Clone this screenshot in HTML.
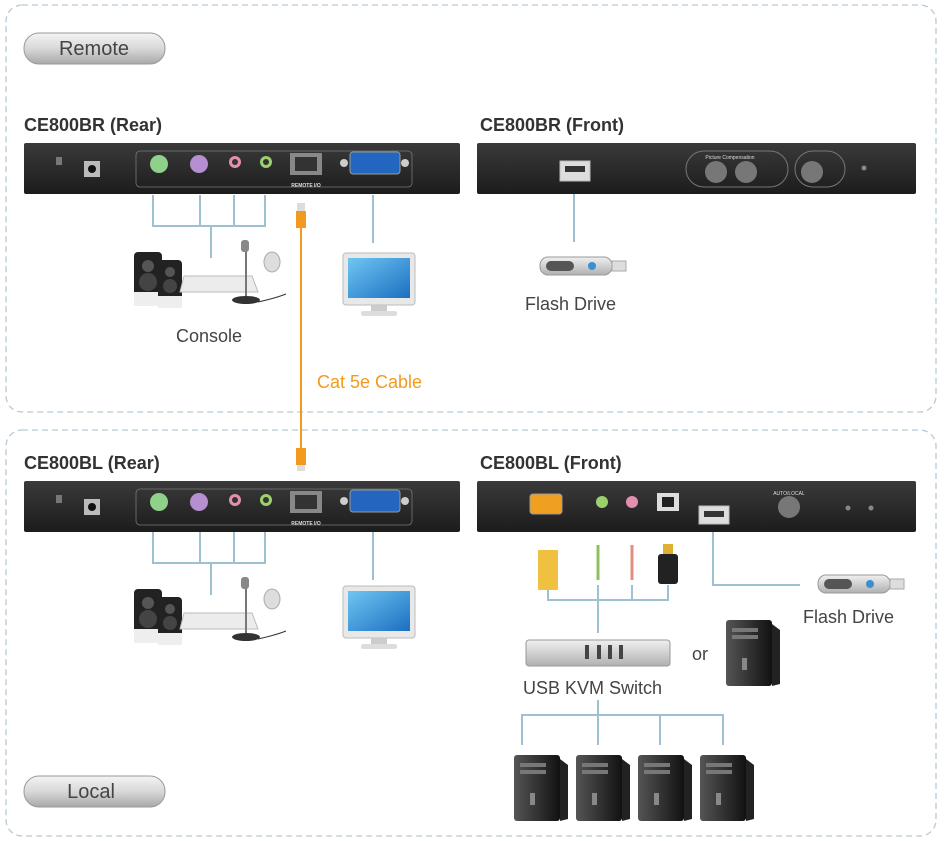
<!DOCTYPE html>
<html><head><meta charset="utf-8"><style>
html,body{margin:0;padding:0;background:#fff;}
svg{display:block;font-family:"Liberation Sans",sans-serif;}
</style></head><body>
<svg width="945" height="841" viewBox="0 0 945 841" xmlns="http://www.w3.org/2000/svg">
<defs>
<linearGradient id="pill" x1="0" y1="0" x2="0" y2="1"><stop offset="0" stop-color="#f4f4f4"/><stop offset="0.5" stop-color="#d8d8d8"/><stop offset="1" stop-color="#a8a8a8"/></linearGradient>
<linearGradient id="panel" x1="0" y1="0" x2="0" y2="1"><stop offset="0" stop-color="#3a3a3a"/><stop offset="1" stop-color="#1c1c1c"/></linearGradient>
<linearGradient id="scr" x1="0" y1="0" x2="1" y2="1"><stop offset="0" stop-color="#6fc6f2"/><stop offset="1" stop-color="#1b6fc0"/></linearGradient>
<linearGradient id="pc" x1="0" y1="0" x2="1" y2="0"><stop offset="0" stop-color="#555"/><stop offset="1" stop-color="#111"/></linearGradient>
<linearGradient id="silver" x1="0" y1="0" x2="0" y2="1"><stop offset="0" stop-color="#f0f0f0"/><stop offset="1" stop-color="#b0b0b0"/></linearGradient>
<g id="pcg"><rect x="0" y="0" width="46" height="66" rx="3" fill="url(#pc)"/><rect x="6" y="8" width="26" height="4" fill="#777"/><rect x="6" y="15" width="26" height="4" fill="#777"/><rect x="16" y="38" width="5" height="12" fill="#888"/><polygon points="46,4 54,10 54,64 46,66" fill="#222"/></g>
<g id="monitor"><rect x="0" y="0" width="72" height="52" rx="3" fill="#e8e8e8" stroke="#bbb"/><rect x="5" y="5" width="62" height="40" fill="url(#scr)"/><rect x="28" y="52" width="16" height="6" fill="#ccc"/><rect x="18" y="58" width="36" height="5" rx="2" fill="#ddd"/></g>
<g id="flash"><rect x="0" y="0" width="72" height="18" rx="8" fill="url(#silver)" stroke="#999"/><rect x="6" y="4" width="28" height="10" rx="5" fill="#555"/><circle cx="52" cy="9" r="4" fill="#3a8fd0"/><rect x="72" y="4" width="14" height="10" fill="#ddd" stroke="#aaa"/></g>
<g id="console">
<rect x="0" y="12" width="28" height="48" rx="4" fill="#222"/><circle cx="14" cy="26" r="6" fill="#555"/><circle cx="14" cy="42" r="9" fill="#444"/><rect x="0" y="52" width="28" height="14" fill="#eee"/>
<rect x="24" y="20" width="24" height="42" rx="4" fill="#222"/><circle cx="36" cy="32" r="5" fill="#555"/><circle cx="36" cy="46" r="7" fill="#444"/><rect x="24" y="56" width="24" height="12" fill="#eee"/>
<polygon points="50,36 118,36 124,52 46,52" fill="#ececec" stroke="#bbb"/>
<line x1="112" y1="8" x2="112" y2="58" stroke="#777" stroke-width="2"/><rect x="107" y="0" width="8" height="12" rx="3" fill="#888"/><ellipse cx="112" cy="60" rx="14" ry="4" fill="#333"/>
<ellipse cx="138" cy="22" rx="8" ry="10" fill="#ddd" stroke="#aaa"/><path d="M124,62 q18,-4 28,-8" stroke="#333" fill="none"/>
</g>
<g id="rear">
<rect x="0" y="0" width="436" height="51" rx="2" fill="url(#panel)"/>
<rect x="32" y="14" width="6" height="8" fill="#777"/><rect x="60" y="18" width="16" height="16" fill="#bbb"/><circle cx="68" cy="26" r="4" fill="#111"/>
<rect x="112" y="8" width="276" height="36" rx="4" fill="none" stroke="#777" stroke-width="0.8"/>
<circle cx="135" cy="21" r="9" fill="#8fd08a"/><circle cx="175" cy="21" r="9" fill="#b58fd0"/>
<circle cx="211" cy="19" r="6" fill="#e58fb0"/><circle cx="211" cy="19" r="3" fill="#333"/>
<circle cx="242" cy="19" r="6" fill="#9cd06a"/><circle cx="242" cy="19" r="3" fill="#333"/>
<rect x="266" y="10" width="32" height="22" fill="#888"/><rect x="271" y="14" width="22" height="14" fill="#333"/>
<text x="282" y="44" font-size="5" fill="#ddd" text-anchor="middle" font-weight="bold">REMOTE I/O</text>
<circle cx="320" cy="20" r="4" fill="#ccc"/><circle cx="381" cy="20" r="4" fill="#ccc"/>
<rect x="326" y="9" width="50" height="22" rx="3" fill="#2266c0" stroke="#999"/>
</g>
</defs>

<rect x="6" y="5" width="930" height="407" rx="16" fill="none" stroke="#b7c9d6" stroke-width="1.3" stroke-dasharray="6,4"/>
<rect x="6" y="430" width="930" height="406" rx="16" fill="none" stroke="#b7c9d6" stroke-width="1.3" stroke-dasharray="6,4"/>

<rect x="24" y="33" width="141" height="31" rx="15" fill="url(#pill)" stroke="#999"/>
<text x="94" y="55" font-size="20" fill="#444" text-anchor="middle">Remote</text>
<rect x="24" y="776" width="141" height="31" rx="15" fill="url(#pill)" stroke="#999"/>
<text x="91" y="798" font-size="20" fill="#444" text-anchor="middle">Local</text>

<g font-size="18" font-weight="bold" fill="#333">
<text x="24" y="131">CE800BR (Rear)</text><text x="480" y="131">CE800BR (Front)</text>
<text x="24" y="469">CE800BL (Rear)</text><text x="480" y="469">CE800BL (Front)</text>
</g>

<g stroke="#9fc0d0" stroke-width="2" fill="none">
<path d="M153,195 V226 H265 V195 M200,195 V226 M234,195 V226 M211,226 V258"/>
<path d="M373,195 V243"/>
<path d="M574,194 V242"/>
<path d="M153,532 V563 H265 V532 M200,532 V563 M234,532 V563 M211,563 V595"/>
<path d="M373,532 V580"/>
<path d="M713,532 V585 H800"/>
<path d="M548,590 V600 H668 V585 M598,585 V633 M632,585 V600"/>
<path d="M598,700 V715 M522,745 V715 H723 V745 M598,715 V745 M660,715 V745"/>
</g>

<use href="#rear" x="24" y="143"/>
<use href="#rear" x="24" y="481"/>

<rect x="477" y="143" width="439" height="51" rx="2" fill="url(#panel)"/>
<rect x="560" y="161" width="30" height="20" fill="#ddd" stroke="#bbb"/><rect x="565" y="166" width="20" height="6" fill="#333"/>
<rect x="686" y="151" width="102" height="36" rx="18" fill="none" stroke="#777"/>
<circle cx="716" cy="172" r="11" fill="#777"/><circle cx="746" cy="172" r="11" fill="#777"/>
<rect x="795" y="151" width="50" height="36" rx="18" fill="none" stroke="#777"/><circle cx="812" cy="172" r="11" fill="#777"/>
<circle cx="864" cy="168" r="2.5" fill="#888"/>
<text x="730" y="159" font-size="5" fill="#ddd" text-anchor="middle">Picture  Compensation</text>

<rect x="477" y="481" width="439" height="51" rx="2" fill="url(#panel)"/>
<rect x="530" y="494" width="32" height="20" rx="3" fill="#f0a020" stroke="#999"/>
<circle cx="602" cy="502" r="6" fill="#9cd06a"/><circle cx="632" cy="502" r="6" fill="#e58fb0"/>
<rect x="657" y="493" width="22" height="18" fill="#ddd"/><rect x="662" y="497" width="12" height="10" fill="#222"/>
<rect x="699" y="506" width="30" height="18" fill="#ddd" stroke="#bbb"/><rect x="704" y="511" width="20" height="6" fill="#333"/>
<circle cx="789" cy="507" r="11" fill="#777"/>
<text x="789" y="495" font-size="5" fill="#ddd" text-anchor="middle">AUTO/LOCAL</text>
<circle cx="848" cy="508" r="2.5" fill="#888"/><circle cx="871" cy="508" r="2.5" fill="#888"/>

<line x1="301" y1="210" x2="301" y2="465" stroke="#f29a1f" stroke-width="2"/>
<rect x="297" y="203" width="8" height="8" fill="#ddd"/><rect x="296" y="211" width="10" height="17" fill="#f29a1f"/>
<rect x="296" y="448" width="10" height="17" fill="#f29a1f"/><rect x="297" y="465" width="8" height="6" fill="#ddd"/>
<text x="317" y="388" font-size="18" fill="#f29a1f">Cat 5e Cable</text>

<use href="#console" x="134" y="240"/>
<use href="#console" x="134" y="577"/>
<use href="#monitor" x="343" y="253"/>
<use href="#monitor" x="343" y="586"/>
<use href="#flash" x="540" y="257"/>
<use href="#flash" x="818" y="575"/>
<text x="176" y="342" font-size="18" fill="#444">Console</text>
<text x="525" y="310" font-size="18" fill="#444">Flash Drive</text>
<text x="803" y="623" font-size="18" fill="#444">Flash Drive</text>

<rect x="538" y="550" width="20" height="40" fill="#f0c040"/>
<line x1="598" y1="545" x2="598" y2="580" stroke="#8cc060" stroke-width="3"/>
<line x1="632" y1="545" x2="632" y2="580" stroke="#e09080" stroke-width="3"/>
<rect x="658" y="554" width="20" height="30" rx="3" fill="#222"/><rect x="663" y="544" width="10" height="10" fill="#e0b030"/>

<rect x="526" y="640" width="144" height="26" rx="3" fill="url(#silver)" stroke="#999"/>
<rect x="585" y="645" width="4" height="14" fill="#444"/><rect x="597" y="645" width="4" height="14" fill="#444"/><rect x="608" y="645" width="4" height="14" fill="#444"/><rect x="619" y="645" width="4" height="14" fill="#444"/>
<text x="523" y="694" font-size="18" fill="#444">USB KVM Switch</text>
<text x="692" y="660" font-size="18" fill="#444">or</text>
<use href="#pcg" x="726" y="620"/>

<use href="#pcg" x="514" y="755"/>
<use href="#pcg" x="576" y="755"/>
<use href="#pcg" x="638" y="755"/>
<use href="#pcg" x="700" y="755"/>
</svg>
</body></html>
